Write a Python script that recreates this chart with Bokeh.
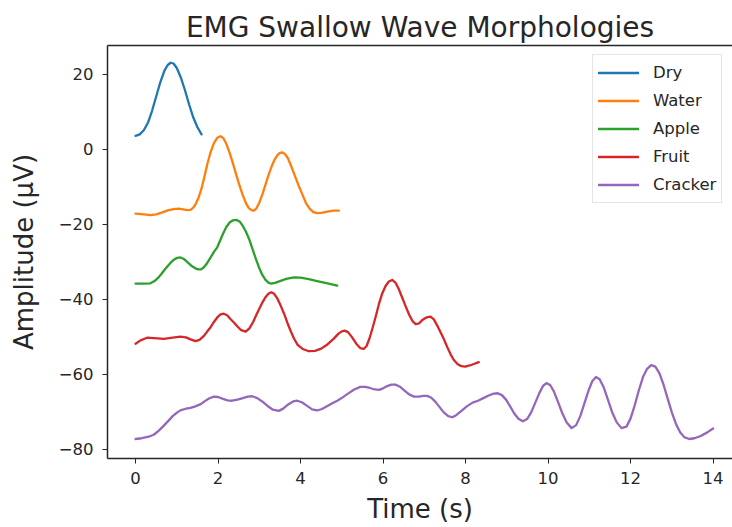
from bokeh.plotting import figure
from bokeh.models import Range1d, FixedTicker, LinearAxis
from bokeh.embed import file_html
from bokeh.resources import INLINE

# ---- data: (time s, amplitude uV) ----
series_names = ["Dry", "Water", "Apple", "Fruit", "Cracker"]
series_colors = ["#1f77b4", "#ff7f0e", "#2ca02c", "#d62728", "#9467bd"]

dry = [(0, 3.5), (0.1, 3.9), (0.2, 5.0), (0.3, 7.0), (0.4, 10.2), (0.5, 14.0), (0.6, 17.8),
       (0.7, 20.9), (0.78, 22.4), (0.85, 23.0), (0.92, 22.8), (1.0, 21.6), (1.1, 19.0),
       (1.2, 15.6), (1.3, 11.8), (1.4, 8.4), (1.5, 5.8), (1.6, 3.9)]

water = [(0, -17.2), (0.2, -17.4), (0.36, -17.6), (0.5, -17.4), (0.65, -16.9), (0.8, -16.3),
         (0.93, -16.0), (1.05, -15.9), (1.15, -16.1), (1.25, -16.3), (1.33, -16.2), (1.4, -15.6),
         (1.46, -14.6), (1.53, -12.9), (1.6, -10.5), (1.67, -7.4), (1.74, -4.0), (1.82, -0.8),
         (1.9, 1.6), (1.98, 3.0), (2.06, 3.4), (2.13, 2.9), (2.2, 1.4), (2.27, -0.7), (2.34, -3.1),
         (2.42, -6.1), (2.5, -9.0), (2.59, -12.0), (2.67, -14.3), (2.74, -15.7), (2.81, -16.3),
         (2.87, -16.4), (2.93, -15.8), (3.0, -14.3), (3.08, -11.9), (3.15, -9.5), (3.22, -7.0),
         (3.3, -4.6), (3.37, -2.8), (3.44, -1.6), (3.5, -1.0), (3.56, -0.9), (3.62, -1.3),
         (3.69, -2.4), (3.76, -4.2), (3.83, -6.2), (3.9, -8.2), (3.97, -10.2), (4.05, -12.3),
         (4.13, -14.4), (4.22, -15.9), (4.31, -16.8), (4.4, -17.1), (4.5, -17.0), (4.65, -16.7),
         (4.8, -16.4), (4.93, -16.4)]

apple = [(0, -35.9), (0.2, -35.9), (0.36, -35.8), (0.46, -35.2), (0.55, -34.3), (0.62, -33.4),
         (0.69, -32.4), (0.77, -31.3), (0.85, -30.3), (0.93, -29.5), (1.01, -29.0), (1.09, -28.9),
         (1.17, -29.3), (1.25, -30.1), (1.35, -31.1), (1.45, -31.8), (1.52, -32.1), (1.58, -32.1),
         (1.65, -31.6), (1.73, -30.5), (1.82, -28.9), (1.9, -27.4), (1.98, -26.2), (2.05, -24.4),
         (2.12, -22.6), (2.2, -20.8), (2.28, -19.6), (2.36, -19.0), (2.45, -18.9), (2.53, -19.4),
         (2.6, -20.5), (2.67, -21.9), (2.75, -23.9), (2.83, -26.5), (2.91, -29.1), (2.99, -31.5),
         (3.07, -33.5), (3.15, -34.9), (3.22, -35.6), (3.29, -35.9), (3.38, -35.7), (3.5, -35.2),
         (3.65, -34.6), (3.84, -34.2), (4.0, -34.3), (4.2, -34.7), (4.4, -35.2), (4.6, -35.7),
         (4.89, -36.4)]

fruit = [(0, -51.9), (0.12, -51.0), (0.28, -50.3), (0.45, -50.4), (0.69, -50.6), (0.9, -50.3),
         (1.09, -50.0), (1.22, -50.2), (1.35, -50.8), (1.45, -51.2), (1.55, -50.9), (1.65, -49.9),
         (1.74, -48.6), (1.82, -47.5), (1.9, -46.1), (1.98, -44.9), (2.06, -44.1), (2.14, -43.9),
         (2.22, -44.3), (2.3, -45.3), (2.39, -46.3), (2.47, -47.3), (2.56, -48.3), (2.67, -48.7),
         (2.76, -47.8), (2.85, -46.1), (2.93, -44.2), (3.0, -42.6), (3.08, -40.8), (3.15, -39.5),
         (3.22, -38.6), (3.29, -38.2), (3.36, -38.6), (3.44, -39.9), (3.52, -41.8), (3.6, -43.9),
         (3.68, -46.3), (3.76, -48.5), (3.84, -50.5), (3.93, -52.2), (4.05, -53.3), (4.2, -53.9),
         (4.35, -53.8), (4.5, -53.2), (4.65, -52.1), (4.8, -50.6), (4.92, -49.2), (5.0, -48.6),
         (5.07, -48.4), (5.15, -48.8), (5.25, -50.2), (5.35, -51.9), (5.45, -53.1), (5.53, -53.3),
         (5.6, -52.5), (5.67, -50.5), (5.74, -47.9), (5.82, -44.7), (5.9, -41.3), (5.98, -38.5),
         (6.06, -36.5), (6.14, -35.3), (6.22, -34.9), (6.3, -35.6), (6.38, -37.3), (6.46, -39.5),
         (6.55, -42.0), (6.63, -44.1), (6.71, -45.8), (6.79, -46.7), (6.87, -46.5), (6.95, -45.6),
         (7.05, -44.9), (7.15, -44.7), (7.23, -45.4), (7.31, -47.0), (7.39, -48.8), (7.47, -50.6),
         (7.56, -52.9), (7.64, -54.8), (7.72, -56.3), (7.81, -57.4), (7.9, -57.9), (7.99, -58.0),
         (8.1, -57.7), (8.2, -57.3), (8.32, -56.8)]

cracker = [(0, -77.3), (0.15, -77.1), (0.32, -76.7), (0.45, -76.1), (0.57, -75.0), (0.68, -73.8),
           (0.8, -72.4), (0.9, -71.2), (1.01, -70.2), (1.1, -69.6), (1.2, -69.3), (1.33, -69.0),
           (1.45, -68.6), (1.58, -68.0), (1.68, -67.2), (1.78, -66.5), (1.9, -66.0), (2.0, -66.1),
           (2.12, -66.6), (2.23, -67.0), (2.34, -67.1), (2.47, -66.8), (2.6, -66.4), (2.72, -66.0),
           (2.83, -65.9), (2.95, -66.4), (3.07, -67.3), (3.2, -68.5), (3.33, -69.5), (3.47, -69.8),
           (3.58, -69.2), (3.7, -68.1), (3.82, -67.3), (3.92, -67.1), (4.03, -67.5), (4.15, -68.4),
           (4.28, -69.4), (4.4, -69.7), (4.52, -69.3), (4.65, -68.5), (4.77, -67.8), (4.89, -67.1),
           (5.02, -66.2), (5.15, -65.2), (5.3, -64.1), (5.45, -63.4), (5.57, -63.4), (5.68, -63.7),
           (5.8, -64.1), (5.9, -64.2), (6.0, -63.8), (6.1, -63.2), (6.2, -62.8), (6.3, -62.8),
           (6.4, -63.3), (6.52, -64.4), (6.63, -65.4), (6.75, -66.0), (6.87, -66.0), (6.97, -65.8),
           (7.07, -65.8), (7.17, -66.3), (7.27, -67.4), (7.37, -68.8), (7.47, -70.2), (7.58, -71.2),
           (7.68, -71.5), (7.78, -70.9), (7.9, -69.8), (8.03, -68.6), (8.17, -67.6), (8.3, -67.1),
           (8.43, -66.4), (8.56, -65.7), (8.68, -65.2), (8.78, -65.1), (8.88, -65.6), (8.98, -66.8),
           (9.08, -68.6), (9.18, -70.5), (9.28, -71.9), (9.39, -72.6), (9.49, -72.0), (9.59, -70.2),
           (9.69, -67.6), (9.79, -65.0), (9.88, -63.1), (9.96, -62.4), (10.05, -62.9),
           (10.14, -64.6), (10.24, -67.4), (10.34, -70.3), (10.45, -72.9), (10.57, -74.4),
           (10.68, -73.6), (10.78, -71.2), (10.88, -67.8), (10.98, -64.4), (11.07, -61.9),
           (11.16, -60.8), (11.25, -61.4), (11.35, -63.6), (11.45, -66.8), (11.55, -70.1),
           (11.66, -72.8), (11.78, -74.4), (11.9, -74.0), (12.0, -71.8), (12.1, -68.3),
           (12.2, -64.3), (12.3, -60.8), (12.4, -58.6), (12.5, -57.6), (12.6, -58.0),
           (12.7, -59.8), (12.8, -62.9), (12.9, -66.6), (13.0, -70.2), (13.1, -73.3),
           (13.2, -75.5), (13.3, -76.8), (13.42, -77.3), (13.55, -77.1), (13.7, -76.5),
           (13.85, -75.6), (14.0, -74.5)]

x_ticks = [0, 2, 4, 6, 8, 10, 12, 14]
y_ticks = [-80, -60, -40, -20, 0, 20]
y_tick_labels = ["\u221280", "\u221260", "\u221240", "\u221220", "0", "20"]

title_text = "EMG Swallow Wave Morphologies"
x_label = "Time (s)"
y_label = "Amplitude (\u03bcV)"

# ---- figure ----
FONT = "DejaVu Sans"
INK = "#262626"

p = figure(width=732, height=527, output_backend="svg", toolbar_location=None,
           x_range=Range1d(-0.68, 14.47), y_range=Range1d(-82.5, 27.6),
           min_border_left=107, min_border_right=0, min_border_top=45,
           min_border_bottom=69)
p.outline_line_color = None
p.xgrid.grid_line_color = None
p.ygrid.grid_line_color = None
p.background_fill_color = "white"
p.border_fill_color = "white"

p.title.text = title_text
p.title.align = "center"
p.title.text_font = FONT
p.title.text_font_size = "28px"
p.title.text_font_style = "normal"
p.title.text_color = INK
p.title.offset = 4
p.title.standoff = 4

all_series = [dry, water, apple, fruit, cracker]
for name, color, pts in zip(series_names, series_colors, all_series):
    t = [a for a, _ in pts]
    v = [b for _, b in pts]
    p.line(t, v, line_color=color, line_width=2.3, line_join="round", line_cap="round",
           legend_label=name)

# axes
p.xaxis.ticker = FixedTicker(ticks=x_ticks)
p.yaxis.ticker = FixedTicker(ticks=y_ticks)
p.yaxis.major_label_overrides = {t: lab for t, lab in zip(y_ticks, y_tick_labels)}
p.xaxis.axis_label = x_label
p.yaxis.axis_label = y_label
for ax in (p.xaxis[0], p.yaxis[0]):
    ax.axis_line_color = INK
    ax.axis_line_width = 1.5
    ax.major_tick_line_color = INK
    ax.major_tick_line_width = 1
    ax.major_tick_out = 5
    ax.major_tick_in = 0
    ax.minor_tick_line_color = None
    ax.major_label_text_font = FONT
    ax.major_label_text_font_size = "16.5px"
    ax.major_label_text_color = INK
    ax.axis_label_text_font = FONT
    ax.axis_label_text_font_size = "26px"
    ax.axis_label_text_font_style = "normal"
    ax.axis_label_text_color = INK
p.xaxis.major_label_standoff = 8
p.yaxis.major_label_standoff = 9
p.xaxis.axis_label_standoff = 7
p.yaxis.axis_label_standoff = 17

# top spine
top_axis = LinearAxis(ticker=FixedTicker(ticks=[]), major_label_text_font_size="0px",
                      major_tick_out=0, major_tick_in=0, minor_tick_line_color=None,
                      major_tick_line_color=None, axis_line_color=INK, axis_line_width=1.5,
                      major_label_standoff=0)
p.add_layout(top_axis, "above")

# legend
lg = p.legend[0]
lg.location = (485, 255)
lg.margin = 0
lg.padding = 5
lg.spacing = 3
lg.glyph_width = 41
lg.glyph_height = 25
lg.label_height = 25
lg.label_standoff = 14
lg.label_text_font = FONT
lg.label_text_font_size = "16.5px"
lg.label_text_color = INK
lg.border_line_color = "#cccccc"
lg.border_line_width = 1
lg.background_fill_color = "white"
lg.background_fill_alpha = 0.8

open("out.html", "w").write(file_html(p, INLINE))
